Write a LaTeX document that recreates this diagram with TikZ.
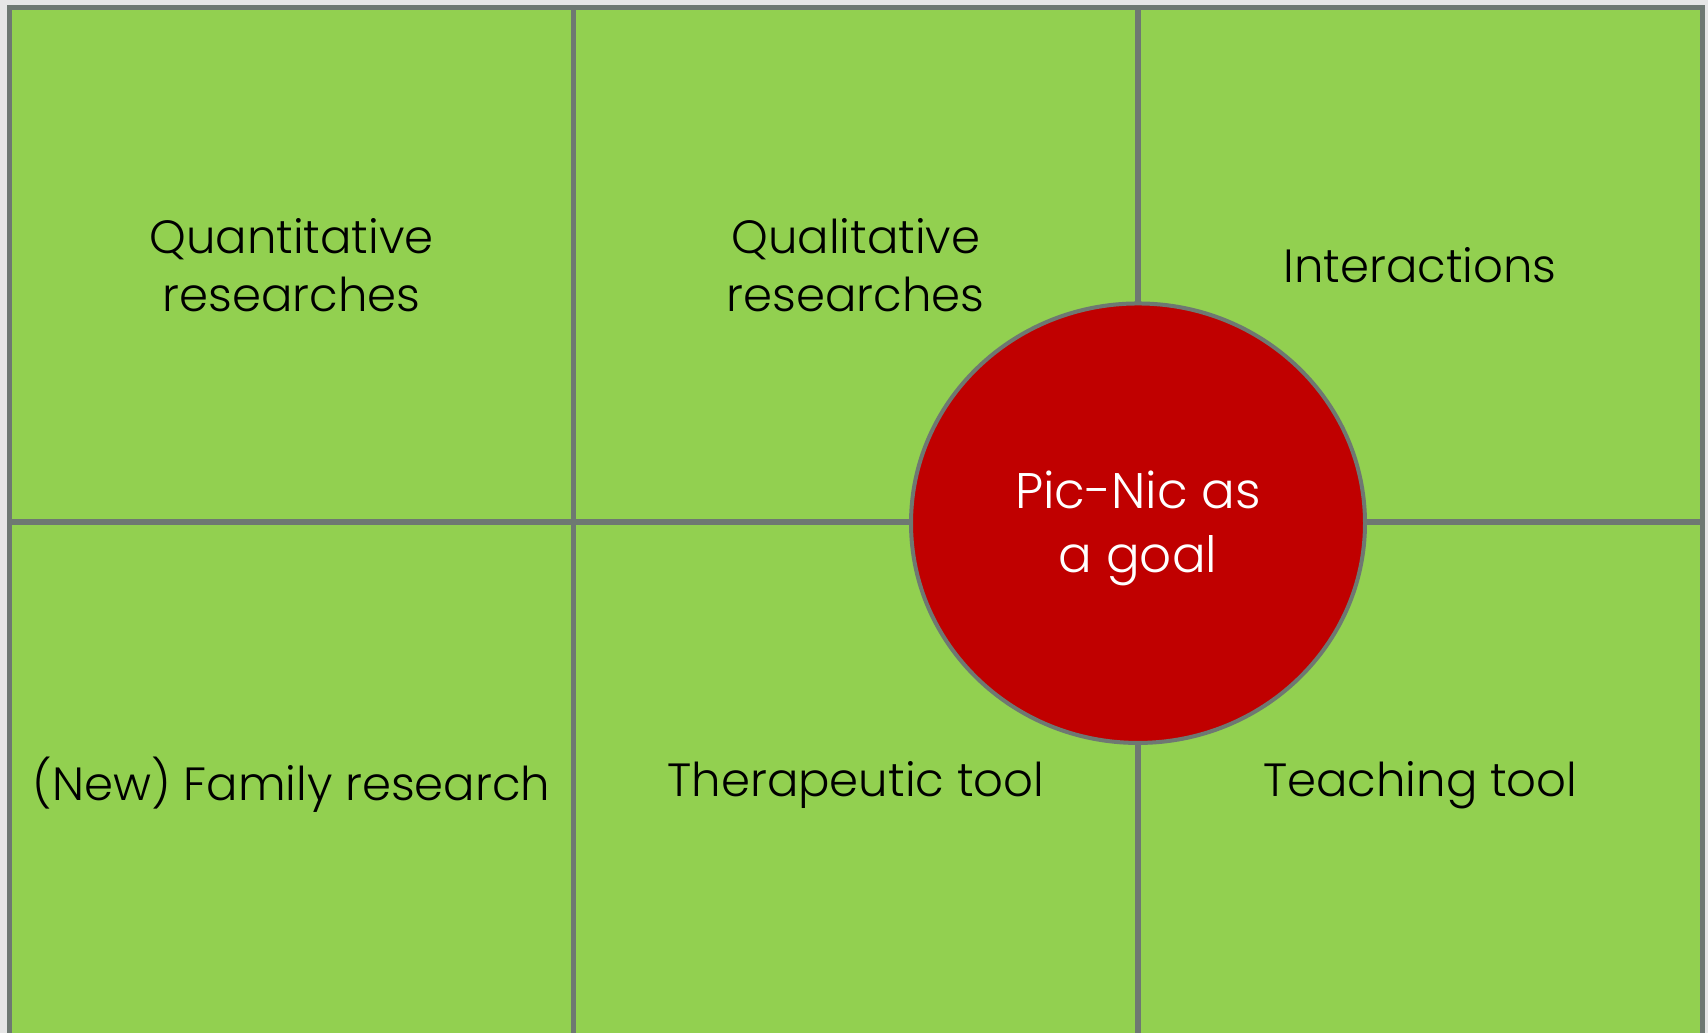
\documentclass[tikz,border=0pt]{standalone}
\usepackage{fontspec}
\setmainfont{Poppins}[UprightFont=* Light]
\usetikzlibrary{shapes.geometric}
\definecolor{cellgreen}{RGB}{146,208,80}
\definecolor{goalred}{RGB}{192,0,0}
\definecolor{rulegray}{RGB}{110,120,114}
\definecolor{pagegray}{RGB}{230,230,230}
\tikzset{
  cell/.style={draw=rulegray, line width=2.6pt, fill=cellgreen, minimum width=282.1pt,
    inner sep=0pt, align=center, font=\fontsize{23.3}{29}\selectfont},
  goal/.style={ellipse, draw=rulegray, line width=2pt, fill=goalred,
    minimum width=227pt, minimum height=219.75pt, inner sep=0pt},
  goaltext/.style={text=white, align=center, inner sep=0pt, yshift=-2.7pt,
    font=\fontsize{25}{32}\selectfont}
}
\begin{document}
\begin{tikzpicture}[x=1pt,y=-1pt]
    \fill[pagegray] (0,0) rectangle (854,516.5);
    \useasboundingbox (0,0) rectangle (854,516.5);
    \clip (0,0) rectangle (854,516.5);
    \foreach \n/\x/\y/\h/\t in {quant/145.75/132.375/257.25/{Quantitative\\researches},
      qual/427.9/132.375/257.25/{Qualitative\\researches},
      inter/710.1/132.375/257.25/{Interactions},
      family/145.75/392.5/263/{(New) Family research},
      thera/427.9/392.5/263/{Therapeutic tool},
      teach/710.1/392.5/263/{Teaching tool}}
    { \node[cell, minimum height=\h pt] (\n) at (\x,\y) {\t}; }
    \node[goal, label={[goaltext]center:{Pic-Nic as\\a goal}}] (goal) at (569,261.6) {};
  \end{tikzpicture}
\end{document}
